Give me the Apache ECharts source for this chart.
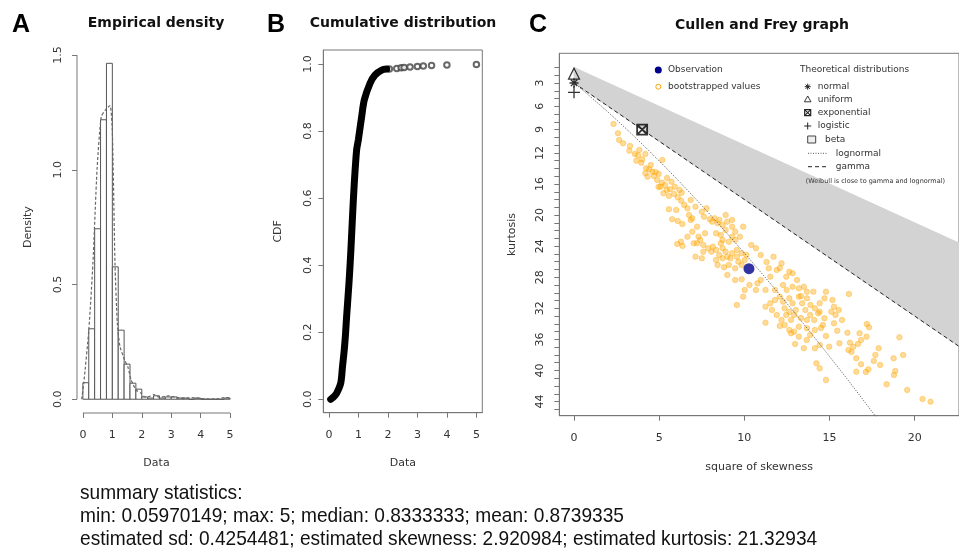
<!DOCTYPE html>
<html><head><meta charset="utf-8">
<script src="https://cdn.jsdelivr.net/npm/echarts@6/dist/echarts.min.js"></script>
<style>html,body{margin:0;padding:0;background:#fff}#c{width:959px;height:548px}</style>
</head><body><div id="c"></div>
<script>
// ---------- Panel A: histogram + empirical density ----------
const histBinEdges = [0,0.2,0.4,0.6,0.8,1.0,1.2,1.4,1.6,1.8,2.0,2.2,2.4,2.6,2.8,3.0,3.2,3.4,3.6,3.8,4.0,4.2,4.4,4.6,4.8,5.0];
const histDensity = [0.072,0.307,0.743,1.218,1.464,0.577,0.301,0.153,0.070,0.044,0.010,0.005,0.015,0.005,0.010,0.010,0.005,0.005,0.000,0.005,0.000,0.000,0.000,0.000,0.005];
const densX = [-0.04,0.03,0.2,0.34,0.48,0.62,0.76,0.92,1.0,1.09,1.17,1.26,1.42,1.53,1.64,1.81,1.98,2.09,2.25,2.42,2.6,2.8,2.92,3.1,3.25,3.5,3.8,4.0,4.26,4.6,4.8,4.97];
const densY = [0,0.07,0.3,0.59,1.0,1.23,1.26,1.28,1.17,0.59,0.33,0.23,0.17,0.14,0.084,0.04,0.026,0.01,0.012,0.02,0.008,0.012,0.015,0.01,0.007,0.005,0.007,0.003,0.001,0.002,0.007,0.007];
const xTicksA = [0,1,2,3,4,5];
const yTicksA = [0,0.5,1.0,1.5];

// ---------- Panel B: empirical CDF ----------
const cdfX = [0.06,0.15,0.26,0.40,0.46,0.52,0.565,0.60,0.68,0.745,0.80,0.86,0.94,1.0,1.11,1.20,1.39,1.56,1.79,1.96];
const cdfY = [0,0.006,0.018,0.048,0.097,0.147,0.197,0.246,0.346,0.445,0.545,0.644,0.744,0.775,0.843,0.893,0.942,0.967,0.982,0.985];
const cdfTailX = [2.05,2.3,2.45,2.55,2.75,3.0,3.2,3.48,4.0,5.0];
const cdfTailY = [0.985,0.987,0.989,0.990,0.991,0.993,0.994,0.996,0.997,0.999];
const xTicksB = [0,1,2,3,4,5];
const yTicksB = [0,0.2,0.4,0.6,0.8,1.0];

// ---------- Panel C: Cullen and Frey graph ----------
const bootSkew2 = [
2.32,2.58,2.65,2.88,3.29,3.25,3.57,3.76,3.66,4.00,4.19,3.95,4.23,4.41,4.19,4.32,4.60,4.69,4.97,4.88,5.16,5.35,5.07,5.44,5.25,5.72,5.91,5.63,5.87,6.19,6.09,6.29,6.00,5.57,5.76,6.09,6.32,6.06,6.37,6.28,9.56,
6.85,7.13,7.50,7.63,6.85,7.22,6.94,7.97,8.25,8.53,8.90,9.28,8.72,8.34,8.62,7.69,9.28,9.46,9.93,9.74,9.46,9.09,8.72,7.22,7.59,7.87,8.15,8.34,8.72,8.90,9.28,9.18,9.56,9.84,10.02,10.40,10.68,7.13,7.50,8.34,8.72,8.43,8.81,9.09,9.46,9.84,9.00,9.46,9.84,10.30,10.02,9.93,6.66,7.41,
10.96,11.71,12.18,11.43,11.90,12.64,12.83,12.46,11.52,10.96,10.77,11.24,10.68,11.80,12.27,12.83,13.20,13.49,13.67,14.05,14.79,12.08,12.64,13.20,13.67,11.52,12.27,12.83,13.39,14.42,14.70,11.24,12.36,13.02,13.58,14.14,14.42,11.62,11.90,12.46,12.92,13.86,14.33,12.18,12.74,13.67,14.70,11.24,12.08,13.20,13.67,14.61,12.64,12.92,14.14,12.74,13.20,13.86,14.79,13.49,14.14,14.42,14.23,14.42,14.79,
16.14,15.17,15.26,15.54,15.11,15.35,15.26,15.45,17.19,17.32,16.05,16.76,17.17,16.85,16.20,16.67,16.39,16.11,15.58,14.98,19.10,17.88,19.32,18.76,16.57,17.60,16.85,17.97,17.28,17.13,16.57,18.86,18.78,18.35,19.56,20.46,20.93,
6.66,6.94,7.78,8.11,8.43,8.99,8.90,9.28,8.62,8.06,8.53,9.00,9.56,9.65,10.12,7.59,7.31,7.03,
4.51,4.79,5.46,4.96,5.57,6.47,6.75,6.36,5.18,3.83,
11.30,12.08,13.09,12.48,13.32,11.80,13.88,12.64,13.32,14.10,12.36,14.50,13.66,12.98,
15.73,16.29,17.69];
const bootKurt = [
8.28,9.47,10.34,10.76,11.11,11.71,12.14,12.31,13.00,12.82,12.14,13.26,13.98,14.11,14.62,15.06,14.42,14.97,14.71,15.48,15.83,16.13,16.35,16.77,17.20,15.70,16.35,16.68,17.29,16.77,17.71,18.15,19.34,19.25,20.54,20.76,17.12,23.72,23.98,23.42,31.57,
18.06,18.92,19.56,20.21,20.63,21.49,22.14,20.54,20.41,20.63,19.99,20.63,21.28,22.34,22.56,22.34,21.49,22.14,21.49,22.78,23.21,23.42,23.21,23.63,23.85,24.27,24.07,24.49,24.27,24.71,24.92,25.56,25.35,24.92,25.78,23.85,24.27,25.35,25.56,25.78,25.56,26.42,26.72,26.42,26.85,26.42,27.71,28.36,28.27,29.00,29.64,30.50,22.78,23.21,
25.14,25.35,26.20,26.85,27.07,27.29,27.49,27.93,27.93,28.35,28.78,29.64,29.64,29.64,29.00,29.22,29.42,29.22,29.86,29.86,29.86,30.50,30.71,30.50,30.71,31.35,31.15,31.35,31.35,31.35,30.71,31.79,32.00,32.21,32.21,32.00,32.43,32.21,32.86,32.86,32.86,32.86,32.64,33.50,33.50,33.50,33.28,33.85,34.27,34.36,34.57,34.15,34.79,35.01,34.79,35.21,35.65,35.43,35.56,37.14,37.14,36.72,39.08,39.72,41.22,
30.16,30.93,31.79,32.21,32.43,32.86,33.93,34.88,34.02,34.44,35.14,35.21,35.65,36.08,36.42,36.59,36.94,37.36,36.50,36.94,35.73,37.14,38.01,38.43,38.43,38.78,39.21,39.29,39.85,40.19,40.15,40.07,40.58,41.78,42.51,43.67,44.02,
19.13,20.41,19.13,20.85,21.06,20.85,21.92,22.78,23.63,24.71,25.14,25.36,24.49,26.00,25.14,24.71,22.78,23.63,
13.55,14.45,15.23,16.39,17.54,18.70,19.99,21.15,12.91,11.62,
26.04,26.81,28.36,29.64,30.41,30.93,31.57,32.47,33.25,33.50,34.15,34.53,36.08,36.59,
33.50,37.62,38.00];
const obsSkew2 = [10.27];
const obsKurt = [26.9];
const lnormSkew2 = [0,0.465,0.961,2.048,3.267,4.624,6.125,7.776,9.583,11.552,13.689,16.0,17.22,18.49];
const lnormKurt = [3,3.838,4.756,6.85,9.32,12.21,15.56,19.43,23.85,28.88,34.58,41.0,44.5,48.2];
const gammaSkew2 = [0,22.6];
const gammaKurt = [3,36.9];
const betaLimSkew2 = [0,22.6];
const betaLimKurt = [1,23.6];
const theoNames = ['normal','uniform','exponential','logistic'];
const theoSkew2 = [0,0,4,0];
const theoKurt = [3,1.8,9,4.2];
const xTicksC = [0,5,10,15,20];
const yTicksC = [1,2,3,4,5,6,7,8,9,10,11,12,13,14,15,16,17,18,19,20,21,22,23,24,25,26,27,28,29,30,31,32,33,34,35,36,37,38,39,40,41,42,43,44,45];
const yLabelsC = [3,6,9,12,16,20,24,28,32,36,40,44];

const summaryLines = [
  'summary statistics:',
  'min: 0.05970149; max: 5; median: 0.8333333; mean: 0.8739335',
  'estimated sd: 0.4254481; estimated skewness: 2.920984; estimated kurtosis: 21.32934'
];

// ---------- drawing ----------
const FONT = 'DejaVu Sans';
const AX = '#777';
const TX = '#333';
const zip = (a,b) => a.map((v,i)=>[v,b[i]]);

const chart = echarts.init(document.getElementById('c'), null, {renderer:'canvas', width:959, height:548});

function xAx(gi, min, max, ticks, name, nameGap, margin) {
  return {gridIndex:gi, type:'value', min, max,
    axisLine:{show: gi!==0, onZero:false, lineStyle:{color:AX}}, splitLine:{show:false},
    axisTick:{show:true, customValues:ticks, length:5, lineStyle:{color:AX}},
    axisLabel:{customValues:ticks, margin, color:TX, fontFamily:FONT, fontSize:11},
    name, nameLocation:'middle', nameGap, nameTextStyle:{color:TX, fontFamily:FONT, fontSize:11}};
}
function yAx(gi, min, max, ticks, labels, fmt, name, nameGap, margin, inverse) {
  return {gridIndex:gi, type:'value', min, max, inverse:!!inverse,
    axisLine:{show: gi!==0, onZero:false, lineStyle:{color:AX}}, splitLine:{show:false},
    axisTick:{show:true, customValues:ticks, length:5, lineStyle:{color:AX}},
    axisLabel:{customValues:labels, rotate:90, margin, color:TX, fontFamily:FONT, fontSize:11, formatter:fmt},
    name, nameLocation:'middle', nameGap, nameRotate:90, nameTextStyle:{color:TX, fontFamily:FONT, fontSize:11}};
}

const option = {
  animation:false,
  backgroundColor:'#fff',
  grid:[
    {left:77, top:41.3, width:159, height:371.7, show:false},
    {left:323.3, top:50, width:159, height:362.7, show:true, borderColor:AX, borderWidth:1, backgroundColor:'transparent'},
    {left:559.3, top:53.3, width:418, height:362.4, show:true, borderColor:AX, borderWidth:1, backgroundColor:'transparent'}
  ],
  xAxis:[
    xAx(0,-0.2,5.2,xTicksA,'Data',45,17),
    xAx(1,-0.19,5.2,xTicksB,'Data',45,17),
    xAx(2,-0.864,22.6,xTicksC,'square of skewness',46,17)
  ],
  yAxis:[
    yAx(0,-0.06,1.56,yTicksA,yTicksA,v=>v.toFixed(1),'Density',43,13),
    yAx(1,-0.04,1.042,yTicksB,yTicksB,v=>v.toFixed(1),'CDF',40,10),
    yAx(2,-0.82,45.82,yTicksC,yLabelsC,v=>String(v),'kurtosis',42,14,true)
  ],
  series:[
    {type:'custom', name:'histogram', xAxisIndex:0, yAxisIndex:0,
      data: histDensity.map((d,i)=>[histBinEdges[i], histBinEdges[i+1], d]),
      renderItem:(p, api)=>{
        const a = api.coord([api.value(0), 0]);
        const b = api.coord([api.value(1), api.value(2)]);
        return {type:'rect', shape:{x:a[0], y:b[1], width:b[0]-a[0], height:a[1]-b[1]},
          style:{fill:'#fff', stroke:'#555', lineWidth:1}};
      }},
    {type:'line', name:'density', xAxisIndex:0, yAxisIndex:0, data:zip(densX,densY), showSymbol:false, smooth:0.2,
      lineStyle:{color:'#666', width:1.2, type:[3,2]}},
    {type:'line', name:'ECDF', xAxisIndex:1, yAxisIndex:1, data:zip(cdfX,cdfY), showSymbol:false, smooth:0.3,
      lineStyle:{color:'#000', width:7, cap:'round'}},
    {type:'scatter', name:'ECDF tail', xAxisIndex:1, yAxisIndex:1, data:zip(cdfTailX,cdfTailY), symbol:'emptyCircle', symbolSize:5.5,
      itemStyle:{color:'#444', borderColor:'#444', borderWidth:0.8}},
    {type:'custom', name:'beta region', xAxisIndex:2, yAxisIndex:2, data:[0], clip:true,
      renderItem:(p, api)=>{
        const pts = betaLimSkew2.map((s,i)=>api.coord([s, betaLimKurt[i]]))
          .concat(gammaSkew2.map((s,i)=>api.coord([s, gammaKurt[i]])).reverse());
        return {type:'polygon', shape:{points:pts}, style:{fill:'#d3d3d3', stroke:'#d3d3d3'}};
      }},
    {type:'line', name:'gamma', xAxisIndex:2, yAxisIndex:2, data:zip(gammaSkew2,gammaKurt), showSymbol:false,
      lineStyle:{color:'#222', width:1, type:[4,3]}},
    {type:'line', name:'lognormal', xAxisIndex:2, yAxisIndex:2, data:zip(lnormSkew2,lnormKurt), showSymbol:false, smooth:0.3,
      lineStyle:{color:'#555', width:1, type:[1,1.5]}},
    {type:'scatter', name:'bootstrapped values', xAxisIndex:2, yAxisIndex:2, data:zip(bootSkew2,bootKurt), symbolSize:5.5,
      itemStyle:{color:'rgba(255,165,0,0.5)', borderColor:'rgba(255,165,0,0.75)', borderWidth:0.6}},
    {type:'scatter', name:'Observation', xAxisIndex:2, yAxisIndex:2, data:zip(obsSkew2,obsKurt), symbolSize:11,
      itemStyle:{color:'#00008b'}},
    {type:'scatter', name:'normal', xAxisIndex:2, yAxisIndex:2, data:[[theoSkew2[0],theoKurt[0]]], symbolSize:9,
      symbol:'path://M0,5L10,5M5,0L5,10M1.5,1.5L8.5,8.5M8.5,1.5L1.5,8.5', itemStyle:{color:'none', borderColor:'#000', borderWidth:1.3}},
    {type:'scatter', name:'uniform', xAxisIndex:2, yAxisIndex:2, data:[[theoSkew2[1],theoKurt[1]]], symbolSize:11,
      symbol:'path://M5,0L10,9L0,9Z', itemStyle:{color:'none', borderColor:'#000', borderWidth:1.2}},
    {type:'scatter', name:'exponential', xAxisIndex:2, yAxisIndex:2, data:[[theoSkew2[2],theoKurt[2]]], symbolSize:10,
      symbol:'path://M0,0L10,0L10,10L0,10ZM0,0L10,10M10,0L0,10', itemStyle:{color:'none', borderColor:'#000', borderWidth:1.8}},
    {type:'scatter', name:'logistic', xAxisIndex:2, yAxisIndex:2, data:[[theoSkew2[3],theoKurt[3]]], symbolSize:12,
      symbol:'path://M5,0L5,10M0,5L10,5', itemStyle:{color:'none', borderColor:'#000', borderWidth:1.3}}
  ]
};
chart.setOption(option);

// axis lines of panel A (R style: only across tick range)
const yA0 = chart.convertToPixel({gridIndex:0}, [-0.2, yTicksA[0]]);
const yA1 = chart.convertToPixel({gridIndex:0}, [-0.2, yTicksA[yTicksA.length-1]]);
const xA0 = chart.convertToPixel({gridIndex:0}, [xTicksA[0], -0.06]);
const xA1 = chart.convertToPixel({gridIndex:0}, [xTicksA[xTicksA.length-1], -0.06]);

const T = (x,y,text,opt,extra) => Object.assign({type:'text', x, y, z:100, style:Object.assign({text, fill:TX, font:'11px '+FONT, align:'left', verticalAlign:'middle'}, opt||{})}, extra||{});
const L = (x1,y1,x2,y2,st) => ({type:'line', z:100, shape:{x1,y1,x2,y2}, style:Object.assign({stroke:'#222', lineWidth:1}, st||{})});
const legFont = '9px ' + FONT;
const sumFont = '21px "Liberation Sans", Arial';
const g = [
  L(yA0[0], yA0[1], yA1[0], yA1[1], {stroke:AX}),
  L(xA0[0], xA0[1], xA1[0], xA1[1], {stroke:AX}),
  T(21,25,'A',{font:'bold 25px "Liberation Sans", Arial', fill:'#000', align:'center'}),
  T(276,25,'B',{font:'bold 25px "Liberation Sans", Arial', fill:'#000', align:'center'}),
  T(538,25,'C',{font:'bold 25px "Liberation Sans", Arial', fill:'#000', align:'center'}),
  T(156,23,'Empirical density',{font:'bold 14px '+FONT, fill:'#111', align:'center'}),
  T(403,23,'Cumulative distribution',{font:'bold 14px '+FONT, fill:'#111', align:'center'}),
  T(762,25,'Cullen and Frey graph',{font:'bold 14px '+FONT, fill:'#111', align:'center'}),
  // legend (panel C)
  {type:'circle', z:100, shape:{cx:658.3, cy:70, r:3.5}, style:{fill:'#00008b'}},
  {type:'circle', z:100, shape:{cx:658.3, cy:86.7, r:2.5}, style:{fill:'none', stroke:'#ffa500', lineWidth:1}},
  T(668,70,'Observation',{font:legFont}),
  T(668,86.7,'bootstrapped values',{font:legFont}),
  T(800,70,'Theoretical distributions',{font:legFont}),
  // normal (asterisk)
  L(804.7,86.7,810.7,86.7), L(807.7,83.7,807.7,89.7), L(805.6,84.6,809.8,88.8), L(809.8,84.6,805.6,88.8),
  // uniform (open triangle)
  {type:'polygon', z:100, shape:{points:[[807.7,96],[811,101.8],[804.4,101.8]]}, style:{fill:'none', stroke:'#222', lineWidth:0.9}},
  // exponential (square with cross)
  {type:'rect', z:100, shape:{x:804.7, y:109.7, width:6, height:6}, style:{fill:'none', stroke:'#222', lineWidth:1.2}},
  L(804.7,109.7,810.7,115.7,{lineWidth:1.1}), L(810.7,109.7,804.7,115.7,{lineWidth:1.1}),
  // logistic (plus)
  L(807.7,122.5,807.7,129.5), L(804.2,126,811.2,126),
  // beta (square)
  {type:'rect', z:100, shape:{x:807.7, y:136, width:8, height:7}, style:{fill:'#eee', stroke:'#444', lineWidth:1}},
  L(808,153.3,827,153.3,{stroke:'#555', lineDash:[1,1.5]}),
  L(808,166.7,827,166.7,{stroke:'#222', lineDash:[4,3]}),
  T(817.7,86.7,theoNames[0],{font:legFont}),
  T(817.7,99.3,theoNames[1],{font:legFont}),
  T(817.7,112.7,theoNames[2],{font:legFont}),
  T(817.7,126,theoNames[3],{font:legFont}),
  T(825,139.3,'beta',{font:legFont}),
  T(835.7,153.3,'lognormal',{font:legFont}),
  T(835.7,166.7,'gamma',{font:legFont}),
  T(805.7,181,'(Weibull is close to gamma and lognormal)',{font:'6.5px '+FONT}),
  // summary
  T(80,493,summaryLines[0],{font:sumFont, fill:'#111'},{scaleX:0.91}),
  T(80,516,summaryLines[1],{font:sumFont, fill:'#111'},{scaleX:0.91}),
  T(80,539,summaryLines[2],{font:sumFont, fill:'#111'},{scaleX:0.91})
];
chart.setOption({graphic:g});
</script></body></html>
